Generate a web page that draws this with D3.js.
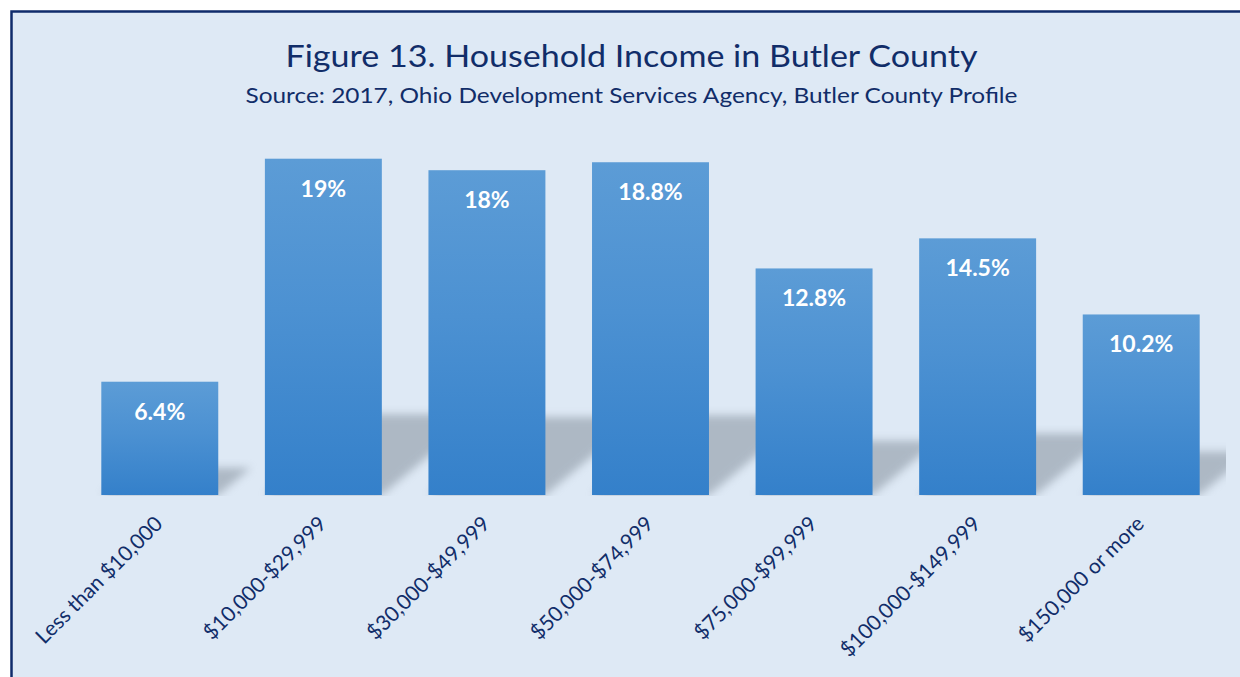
<!DOCTYPE html>
<html>
<head>
<meta charset="utf-8">
<script src="https://cdn.jsdelivr.net/npm/d3@7"></script>
<style>
  html, body { margin: 0; padding: 0; background: #ffffff; }
  svg { display: block; }
</style>
</head>
<body>
<div id="chart"></div>
<script>
// Household income brackets and share of households (%)
const categories = ["Less than $10,000", "$10,000-$29,999", "$30,000-$49,999", "$50,000-$74,999",
                    "$75,000-$99,999", "$100,000-$149,999", "$150,000 or more"];
const shares     = [6.4, 19, 18.35, 18.8, 12.8, 14.5, 10.2];
const shareLabels = ["6.4%", "19%", "18%", "18.8%", "12.8%", "14.5%", "10.2%"];

const title    = "Figure 13. Household Income in Butler County";
const subtitle = "Source: 2017, Ohio Development Services Agency, Butler County Profile";

const width = 1240, height = 677;
const FONT = "Lato, 'Open Sans', sans-serif";
const NAVY = "#112d69";

const svg = d3.select("#chart").append("svg")
    .attr("width", width).attr("height", height);

const defs = svg.append("defs");

const grad = defs.append("linearGradient").attr("id", "barGrad")
    .attr("x1", 0).attr("y1", 0).attr("x2", 0).attr("y2", 1);
grad.append("stop").attr("offset", "0%").attr("stop-color", "#5c9cd6");
grad.append("stop").attr("offset", "45%").attr("stop-color", "#4c91d2");
grad.append("stop").attr("offset", "100%").attr("stop-color", "#3480ca");

defs.append("filter").attr("id", "blur")
    .attr("x", "-30%").attr("y", "-30%").attr("width", "160%").attr("height", "160%")
    .append("feGaussianBlur").attr("stdDeviation", 4.5);

defs.append("clipPath").attr("id", "plotClip")
    .append("rect").attr("x", 60).attr("y", 100).attr("width", 1166).attr("height", 396);

// frame
svg.append("rect").attr("x", 11.5).attr("y", 11.5)
    .attr("width", 1260).attr("height", 700)
    .attr("fill", "#dee9f5").attr("stroke", "#0f2b6b").attr("stroke-width", 2.5);

// titles
svg.append("text").attr("x", 631.5).attr("y", 67)
    .attr("text-anchor", "middle")
    .style("font-family", FONT).style("font-size", "31px").style("fill", NAVY)
    .attr("textLength", 692).attr("lengthAdjust", "spacingAndGlyphs")
    .text(title);
svg.append("text").attr("x", 631.5).attr("y", 103)
    .attr("text-anchor", "middle")
    .style("font-family", FONT).style("font-size", "21px").style("fill", NAVY)
    .attr("textLength", 772).attr("lengthAdjust", "spacingAndGlyphs")
    .text(subtitle);

// scales
const x = d3.scaleBand().domain(categories)
    .range([78, 1223]).paddingInner(0.285).paddingOuter(0.1425);
const y = d3.scaleLinear().domain([0, 20]).range([495, 141]);

const data = categories.map((c, i) => ({ cat: c, value: shares[i], label: shareLabels[i] }));

// perspective shadows (cast up and to the right)
const shadowG = svg.append("g").attr("clip-path", "url(#plotClip)");
shadowG.selectAll("path.shadow").data(data).join("path")
    .attr("class", "shadow")
    .attr("d", d => {
        const x0 = x(d.cat), x1 = x0 + x.bandwidth();
        const h = (y(0) - y(d.value)) * 0.24;
        const dx = h * 1.2;
        return `M${x0},${y(0)} L${x1},${y(0)} L${x1 + dx},${y(0) - h} L${x0 + dx},${y(0) - h} Z`;
    })
    .attr("fill", "#7d8894").attr("opacity", 0.5)
    .attr("filter", "url(#blur)");

// bars
svg.selectAll("rect.bar").data(data).join("rect")
    .attr("class", "bar")
    .attr("x", d => x(d.cat)).attr("width", x.bandwidth())
    .attr("y", d => y(d.value)).attr("height", d => y(0) - y(d.value))
    .attr("fill", "url(#barGrad)");

// value labels
svg.selectAll("text.val").data(data).join("text")
    .attr("class", "val")
    .attr("x", d => x(d.cat) + x.bandwidth() / 2)
    .attr("y", d => y(d.value) + 38)
    .attr("text-anchor", "middle")
    .style("font-family", FONT).style("font-size", "23px").style("font-weight", "bold")
    .style("fill", "#ffffff")
    .text(d => d.label);

// category axis labels, rotated
const xAxis = svg.append("g").attr("transform", `translate(0,${y(0)})`)
    .call(d3.axisBottom(x).tickSize(0).tickPadding(0));
xAxis.select(".domain").remove();
xAxis.selectAll("text")
    .attr("transform", "translate(-1,25) rotate(-45)")
    .attr("text-anchor", "end")
    .attr("dy", "0.35em").attr("y", 0)
    .style("font-family", FONT).style("font-size", "21px").style("fill", NAVY);
</script>
</body>
</html>
